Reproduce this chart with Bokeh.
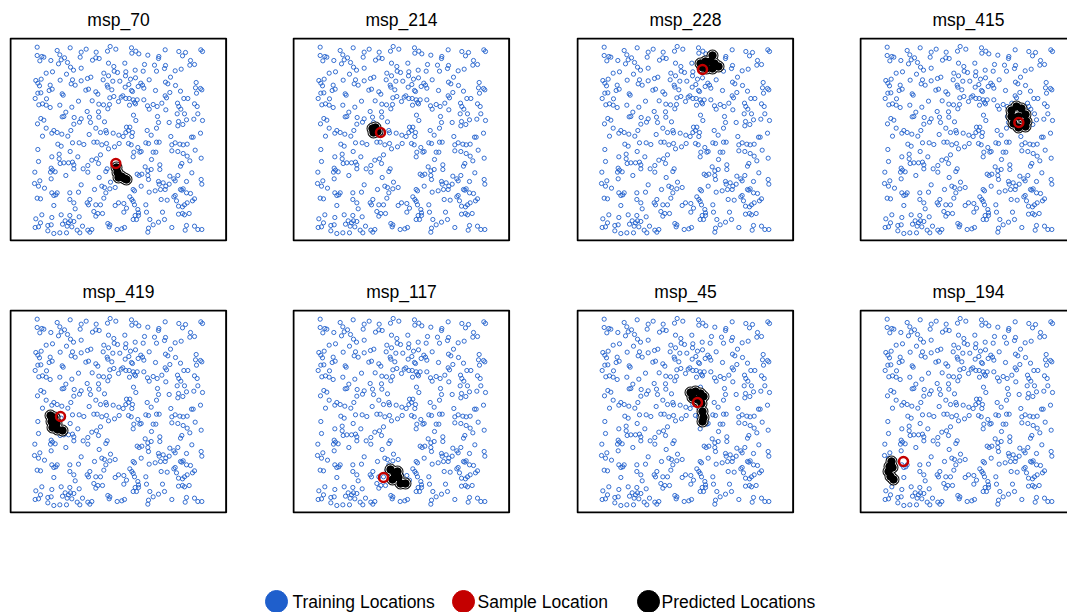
from bokeh.plotting import figure
from bokeh.layouts import column, row
from bokeh.models import Range1d
from bokeh.embed import file_html
from bokeh.resources import INLINE
from bokeh.core.properties import value

FONT = "Liberation Sans"
BLUE = "#1f5fcc"
RED = "#c40000"

titles = ["msp_70", "msp_214", "msp_228", "msp_415",
          "msp_419", "msp_117", "msp_45", "msp_194"]

legend_labels = ["Training Locations", "Sample Location", "Predicted Locations"]

# training locations (shared by all panels), plot units, y grows downward
train_pts = [
    (86,32),(185,34),(233,38),(305,30),(322,38),(146,42),(218,47),(263,47),(297,44),(86,57),
    (100,60),(154,55),(106,62),(94,73),(127,72),(215,62),(252,71),(262,64),(272,66),(168,64),
    (158,70),(150,82),(177,78),(186,92),(300,80),(195,101),(218,95),(316,90),(113,110),(132,106),
    (174,113),(286,110),(317,104),(327,108),(247,122),(237,126),(300,118),(82,132),(98,128),(88,140),
    (155,131),(192,130),(218,133),(284,130),(296,146),(313,134),(334,134),(93,148),(125,146),(131,158),
    (122,162),(188,142),(200,146),(240,158),(232,161),(262,166),(268,173),(298,152),(310,160),(161,172),
    (164,176),(88,170),(97,169),(80,186),(114,187),(210,194),(251,193),(304,184),(316,180),(330,195),
    (91,205),(102,202),(113,206),(125,213),(154,206),(190,212),(271,203),(285,205),(298,217),(303,204),
    (236,225),(270,226),(172,227),(166,240),(161,241),(197,243),(218,247),(243,242),(271,242),(97,246),
    (106,251),(196,263),(213,257),(246,258),(288,256),(87,262),(113,275),(136,282),(130,290),(146,288),
    (187,282),(160,293),(178,299),(242,294),(262,275),(276,288),(292,282),(294,289),(314,290),(102,299),
    (331,296),
    (369,34),(382,44),(391,52),(370,50),(418,56),(470,40),(511,45),(531,48),(522,58),(577,40),
    (582,45),(451,60),(450,66),(349,80),(408,84),(438,86),(471,87),(468,96),(546,72),(558,84),
    (544,86),(352,106),(380,101),(404,104),(444,104),(500,103),(518,98),(351,118),(366,128),(381,124),
    (422,130),(486,122),(350,152),(361,144),(389,150),(397,140),(402,146),(406,155),(471,137),(478,142),
    (501,147),(563,138),(561,154),(576,156),(580,160),(369,162),(372,165),(441,162),(484,168),(516,164),
    (564,170),(338,182),(343,178),(352,186),(362,186),(374,190),(386,190),(378,198),(381,202),(406,190),
    (470,178),(474,184),(526,186),(538,186),(363,206),(417,208),(422,218),(434,204),(446,210),(460,200),
    (472,220),(507,200),(511,210),(517,218),(558,202),(566,210),(506,232),(528,232),(375,236),(382,252),
    (447,240),(450,258),(482,258),(510,255),(508,268),(523,264),(534,250),(556,248),(582,252),(568,232),
    (354,272),(364,272),(360,282),(352,288),(344,300),(370,300),(372,288),(416,282),(428,296),(444,275),
    (487,300),(549,302),(554,302),(576,290),
    (88,339),(148,323),(158,329),(192,319),(212,319),(226,324),(256,317),(266,317),(280,325),(294,321),
    (300,337),(318,331),(185,345),(208,361),(130,361),(152,353),(152,367),(90,375),(155,381),(166,379),
    (180,379),(192,377),(196,385),(250,371),(264,367),(276,355),(270,381),(238,387),(224,397),(196,397),
    (292,405),(296,397),(128,395),(132,401),(140,406),(126,407),(79,407),(238,407),(128,427),(172,417),
    (272,423),(306,437),(78,441),(94,433),(90,449),(108,455),(130,469),(142,475),(136,477),(146,469),
    (184,469),(210,467),(218,445),(258,459),(280,449),(288,453),(292,469),(286,485),(304,457),(320,453),
    (86,485),(96,487),(136,507),(184,489),(196,499),(236,499),(244,489),(240,505),(262,505),(276,505),
    (330,499),(320,507),(200,517),(256,525),(268,531),(282,531),(100,535),(130,543),(158,535),(184,537),
    (212,541),(262,539),(82,547),(96,559),(118,567),(128,565),(80,573),(90,571),(170,553),(180,559),
    (186,553),(196,555),(162,563),(176,569),(190,571),(222,569),(298,561),(302,571),(304,565),(118,583),
    (154,589),(174,589),(206,581),(238,581),(244,587),(250,579),(214,589),(326,579),(136,591),
    (332,321),(360,321),(368,325),(376,347),(388,333),(412,319),(420,321),(444,317),(452,317),(490,325),
    (500,319),(514,323),(524,325),(536,323),(490,343),(508,345),(524,351),(536,359),(560,341),(544,373),
    (578,365),(516,389),(520,381),(434,347),(442,347),(429,369),(410,391),(418,403),(428,399),(454,385),
    (454,399),(374,361),(394,347),(398,345),(386,413),(392,417),(400,413),(418,417),(420,429),(398,449),
    (374,459),(378,463),(422,467),(440,463),(450,435),(452,443),(456,459),(464,439),(472,449),(470,459),
    (482,443),(484,419),(496,427),(500,433),(508,417),(550,409),(578,429),(580,443),(534,435),(516,459),
    (520,461),(524,457),(534,469),(546,471),(558,487),(552,493),(536,499),(528,505),(522,511),(510,509),
    (496,481),(500,477),(504,493),(458,489),(476,491),(346,501),(346,527),(364,481),(370,489),(374,495),
    (378,505),(388,519),(390,529),(380,537),(374,549),(384,549),(390,537),(412,505),(414,527),(424,549),
    (462,527),(450,557),(468,549),(434,565),(420,575),(418,587),(348,573),(340,577),(490,573),(510,533),
    (522,531),(528,535),(534,567),(530,581),(558,569),(568,579),(580,579),(542,531),(354,515),
]
x_train = [p[0] for p in train_pts]
y_train = [p[1] for p in train_pts]

# sample location per panel
sample_x = [322, 267, 381, 481, 156, 276, 366, 135]
sample_y = [381, 288, 99, 258, 324, 507, 282, 459]

# predicted locations per panel
pred_x = [
    [324, 327, 330, 339, 348, 354],
    [243, 252, 246, 258],
    [375, 390, 405, 417, 429, 411, 393, 411, 381],
    [459, 474, 489, 501, 504, 501, 480, 465, 459, 480],
    [126, 129, 132, 147, 162, 144, 138],
    [297, 309, 321, 303, 327, 342, 318],
    [345, 360, 375, 384, 351, 366, 378, 381, 384, 381],
    [99, 93, 90, 96, 105, 102],
]
pred_y = [
    [393, 408, 423, 420, 426, 429],
    [276, 273, 288, 285],
    [81, 75, 75, 81, 90, 96, 96, 57, 93],
    [222, 210, 216, 234, 255, 270, 273, 261, 240, 240],
    [321, 339, 357, 363, 366, 345, 327],
    [483, 495, 507, 513, 525, 525, 489],
    [252, 249, 255, 264, 267, 273, 285, 309, 327, 339],
    [459, 474, 489, 504, 513, 477],
]

# panel extent in plot units
BOX_L, BOX_R, BOX_T, BOX_B = 6, 653, 6, 612


def panel(i):
    c = i % 4
    r = i // 4
    fw = 218 if c < 3 else 208
    fh = 204
    left = 9 if c == 0 else 1
    right = [64, 65, 64, 0][c]
    top = 36 if r == 0 else 28
    bottom = 31 if r == 0 else 32
    p = figure(frame_width=fw, frame_height=fh,
               x_range=Range1d(3, 3 + 3 * fw), y_range=Range1d(3 + 3 * fh, 3),
               min_border_left=left, min_border_right=right,
               min_border_top=top, min_border_bottom=bottom,
               toolbar_location=None, output_backend="svg",
               x_axis_location=None, y_axis_location=None,
               title=titles[i], outline_line_color=None)
    p.grid.visible = False
    p.title.text_font = FONT
    p.title.text_font_size = "17.5px"
    p.title.text_font_style = "normal"
    p.title.text_color = "black"
    p.title.standoff = 15
    if c < 3:
        p.title.align = "center"
    else:
        p.title.align = "left"
        p.title.offset = 73
    p.quad(left=BOX_L, right=BOX_R, top=BOX_T, bottom=BOX_B,
           fill_color=None, line_color="black", line_width=2)
    p.scatter(x_train, y_train, marker="circle", size=4.2, fill_color=None,
              line_color=BLUE, line_width=0.9)
    p.scatter(pred_x[i], pred_y[i], marker="circle", size=11, color="black")
    p.scatter(pred_x[i], pred_y[i], marker="circle", size=9, color="white")
    p.scatter(pred_x[i], pred_y[i], marker="circle", size=7.5, color="black")
    p.scatter([sample_x[i]], [sample_y[i]], marker="circle", size=9,
              fill_color=None, line_color=RED, line_width=2.5)
    return p


panels = [panel(i) for i in range(8)]

leg = figure(width=1067, height=67, x_range=Range1d(0, 1067), y_range=Range1d(67, 0),
             min_border=0, toolbar_location=None, output_backend="svg",
             x_axis_location=None, y_axis_location=None, outline_line_color=None)
leg.grid.visible = False
leg.scatter([276, 463, 648], [56, 56, 56], marker="circle", size=22,
            color=[BLUE, RED, "black"])
leg.text([292, 477, 661], [56, 56, 56], text=legend_labels,
         text_font=value(FONT), text_font_size="17.5px",
         text_baseline="middle", text_align="left", text_color="black")

layout = column(row(*panels[:4]), row(*panels[4:]), leg)

open("out.html", "w").write(file_html(layout, INLINE))
